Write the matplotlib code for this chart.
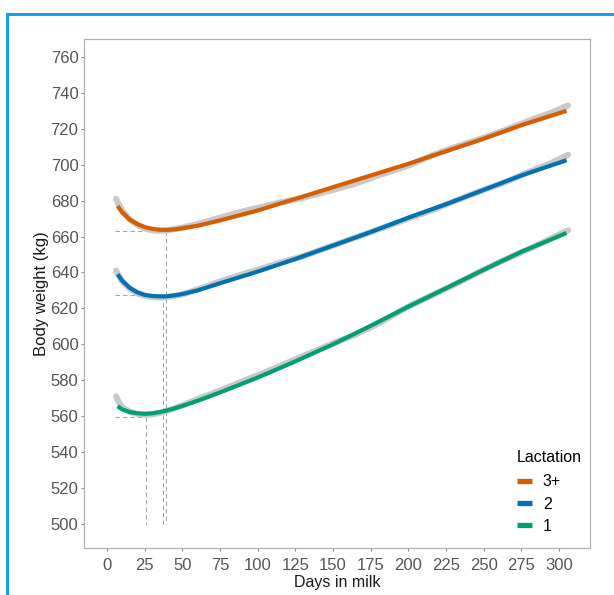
import matplotlib
matplotlib.use("Agg")
import matplotlib.pyplot as plt
from matplotlib.lines import Line2D

plt.rcParams["font.family"] = ["Liberation Sans", "DejaVu Sans"]
plt.rcParams["lines.scale_dashes"] = False

# Fitted body-weight curves by lactation group
days_fit = [7, 10, 15, 20, 25, 30, 35, 39, 45, 50, 60, 75, 100, 125, 150,
            175, 200, 225, 250, 275, 305]
bw_fit_3 = [677.0, 673.5, 669.5, 667.0, 665.3, 664.3, 663.8, 663.7, 664.0,
            664.6, 666.0, 669.0, 674.5, 681.0, 687.5, 694.0, 700.5, 707.5,
            714.5, 722.0, 730.0]
bw_fit_2 = [639.0, 635.5, 631.5, 629.0, 627.5, 626.9, 626.7, 626.7, 627.3,
            628.0, 630.0, 634.0, 640.5, 647.5, 655.0, 662.5, 670.5, 678.0,
            686.0, 694.0, 702.5]
bw_fit_1 = [565.5, 563.8, 562.3, 561.6, 561.3, 561.6, 562.3, 563.0, 564.4,
            565.7, 568.5, 573.2, 581.5, 590.5, 600.0, 610.3, 621.0, 631.2,
            641.5, 651.5, 662.0]

# Observed daily means (drawn underneath in light grey)
days_obs = [6, 8, 10, 15, 20, 25, 30, 35, 40, 50, 60, 75, 90, 100, 115, 130,
            150, 165, 180, 200, 215, 230, 250, 265, 280, 295, 306]
bw_obs_3 = [681.0, 677.5, 674.5, 669.5, 666.5, 664.5, 663.5, 663.2, 663.5,
            665.0, 667.0, 670.5, 674.0, 676.0, 679.0, 681.5, 686.0, 689.5,
            694.0, 699.5, 705.0, 709.5, 715.0, 719.5, 724.5, 729.0, 733.0]
bw_obs_2 = [641.0, 638.0, 635.0, 631.0, 628.5, 627.0, 626.3, 626.0, 626.3,
            627.8, 630.5, 635.0, 639.0, 641.5, 645.5, 649.0, 655.0, 659.5,
            664.0, 670.0, 674.5, 679.5, 686.0, 690.5, 696.0, 701.0, 705.5]
bw_obs_1 = [571.0, 567.5, 565.0, 562.5, 561.3, 560.8, 561.0, 561.8, 563.0,
            566.0, 569.5, 574.3, 579.5, 582.8, 588.0, 593.5, 600.5, 605.5,
            611.5, 621.0, 627.0, 633.0, 641.5, 647.5, 653.0, 659.0, 663.5]

# Day and weight at the nadir of each curve
groups = ["3+", "2", "1"]
colors = ["#D55E00", "#0072B2", "#009E73"]
nadir_day = [38.9, 37.1, 26.1]
nadir_bw = [663.0, 627.2, 559.5]

x_ticks = [0, 25, 50, 75, 100, 125, 150, 175, 200, 225, 250, 275, 300]
y_ticks = [500, 520, 540, 560, 580, 600, 620, 640, 660, 680, 700, 720, 740, 760]

fig = plt.figure(figsize=(6.14, 5.95), dpi=100)
ax = fig.add_axes([84 / 614, 1 - 548 / 595, 506 / 614, 509 / 595])

grey = "#c9c9c9"
for obs in [bw_obs_3, bw_obs_2, bw_obs_1]:
    ax.plot(days_obs, obs, color=grey, lw=4.4, solid_capstyle="round", zorder=2)

dash = (0, (3.2, 2.2))
for d, w in zip(nadir_day, nadir_bw):
    ax.plot([5, d], [w, w], color="#a6a6a6", lw=0.8, linestyle=dash, zorder=1)
    ax.plot([d, d], [w, 500], color="#a6a6a6", lw=0.8, linestyle=dash, zorder=1)

handles = []
for fit, c, g in zip([bw_fit_3, bw_fit_2, bw_fit_1], colors, groups):
    ln, = ax.plot(days_fit, fit, color=c, lw=3.0, solid_capstyle="butt",
                  zorder=3, label=g)
    handles.append(ln)

ax.set_xlim(-15.3, 320.6)
ax.set_ylim(486.6, 770.0)
ax.set_xticks(x_ticks)
ax.set_yticks(y_ticks)

for s in ax.spines.values():
    s.set_color("#b0b0b0")
    s.set_linewidth(0.9)
ax.tick_params(axis="both", colors="#8c8c8c", length=2.5, width=0.8,
               labelsize=12, labelcolor="#555555")
ax.tick_params(axis="x", pad=4.5)
ax.tick_params(axis="y", pad=1.5)

ax.set_xlabel("Days in milk", fontsize=11.5, color="#1a1a1a", labelpad=1.5)
ax.set_ylabel("Body weight (kg)", fontsize=12, color="#1a1a1a", labelpad=1)

leg = ax.legend(handles=handles, title="Lactation", loc="upper left",
                bbox_to_anchor=(0.839, 0.209), frameon=False, borderpad=0,
                fontsize=11.5, title_fontsize=11.5, handlelength=1.0,
                handletextpad=0.65, labelspacing=0.45)
leg._legend_box.align = "left"
leg._legend_box.sep = 7
for h in leg.legend_handles:
    h.set_linewidth(3.8)

# Outer blue frame (open on right and bottom)
fc = "#16a0e2"
fig.add_artist(Line2D([7 / 614, 7 / 614], [0, 1 - 14 / 595], color=fc, lw=2.2,
                      transform=fig.transFigure))
fig.add_artist(Line2D([7 / 614, 1], [1 - 14 / 595, 1 - 14 / 595], color=fc,
                      lw=2.2, transform=fig.transFigure))

fig.savefig("out.png", dpi=100)
